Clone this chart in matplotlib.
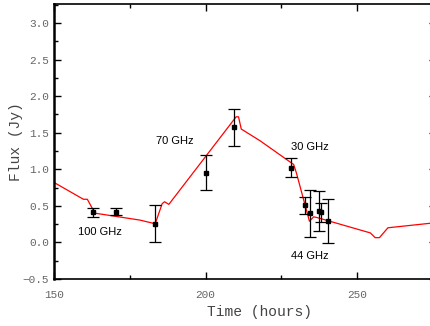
import matplotlib
matplotlib.use("Agg")
import matplotlib.pyplot as plt
from matplotlib.ticker import MultipleLocator

# observed fluxes with errors
obs_time = [163.0, 170.5, 183.4, 200.0, 209.5, 228.1, 232.8, 234.5, 237.6, 238.0, 240.4]
obs_flux = [0.41, 0.42, 0.255, 0.95, 1.575, 1.02, 0.505, 0.40, 0.43, 0.41, 0.29]
obs_err = [0.06, 0.05, 0.25, 0.24, 0.25, 0.13, 0.11, 0.32, 0.27, 0.13, 0.30]

# model light curve
model_time = [150.0, 159.7, 161.0, 163.5, 178.4, 183.4, 185.7, 186.5, 187.9, 210.1,
              210.9, 211.8, 218.0, 229.1, 230.0, 234.3, 235.7, 236.8, 254.4, 256.0,
              257.4, 260.2, 276.0]
model_flux = [0.82, 0.59, 0.59, 0.40, 0.305, 0.255, 0.53, 0.556, 0.52, 1.717,
              1.717, 1.55, 1.39, 1.065, 0.95, 0.29, 0.35, 0.34, 0.13, 0.065,
              0.065, 0.20, 0.27]

freq_labels = ["100 GHz", "70 GHz", "30 GHz", "44 GHz"]
label_pos = [(165.2, 0.14), (189.9, 1.38), (234.3, 1.30), (234.3, -0.19)]

mono = "Liberation Mono"

fig = plt.figure(figsize=(4.31, 3.26), dpi=100)
ax = fig.add_axes([0.1253, 0.1442, 0.8858, 0.8436])

ax.plot(model_time, model_flux, color="red", lw=0.9, zorder=2)
ax.errorbar(obs_time, obs_flux, yerr=obs_err, fmt="s", color="black", ms=3,
            elinewidth=0.9, capsize=4.5, capthick=0.9, zorder=3)

for txt, (x, y) in zip(freq_labels, label_pos):
    ax.text(x, y, txt, fontsize=8, family="Liberation Sans", ha="center", va="center")

ax.set_xlim(150, 276)
ax.set_ylim(-0.5, 3.26)
ax.xaxis.set_major_locator(MultipleLocator(50))
ax.xaxis.set_minor_locator(MultipleLocator(25))
ax.yaxis.set_major_locator(MultipleLocator(0.5))
ax.yaxis.set_minor_locator(MultipleLocator(0.25))

ax.tick_params(which="both", direction="in", top=True, right=True, colors="black",
               labelcolor="#666666", labelsize=8)
ax.tick_params(which="major", length=5, width=1)
ax.tick_params(which="minor", length=3, width=1)
ax.tick_params(axis="x", pad=8)
for lab in ax.get_xticklabels() + ax.get_yticklabels():
    lab.set_family(mono)

for s in ax.spines.values():
    s.set_linewidth(1.2)
ax.spines["left"].set_linewidth(1.8)

ax.set_xlabel("Time (hours)", family=mono, fontsize=10.5, color="#444444")
ax.set_ylabel("Flux (Jy)", family=mono, fontsize=10.5, color="#444444")
ax.xaxis.set_label_coords(0.537, -0.095)
ax.yaxis.set_label_coords(-0.08, 0.5)

fig.savefig("out.png", dpi=100)
